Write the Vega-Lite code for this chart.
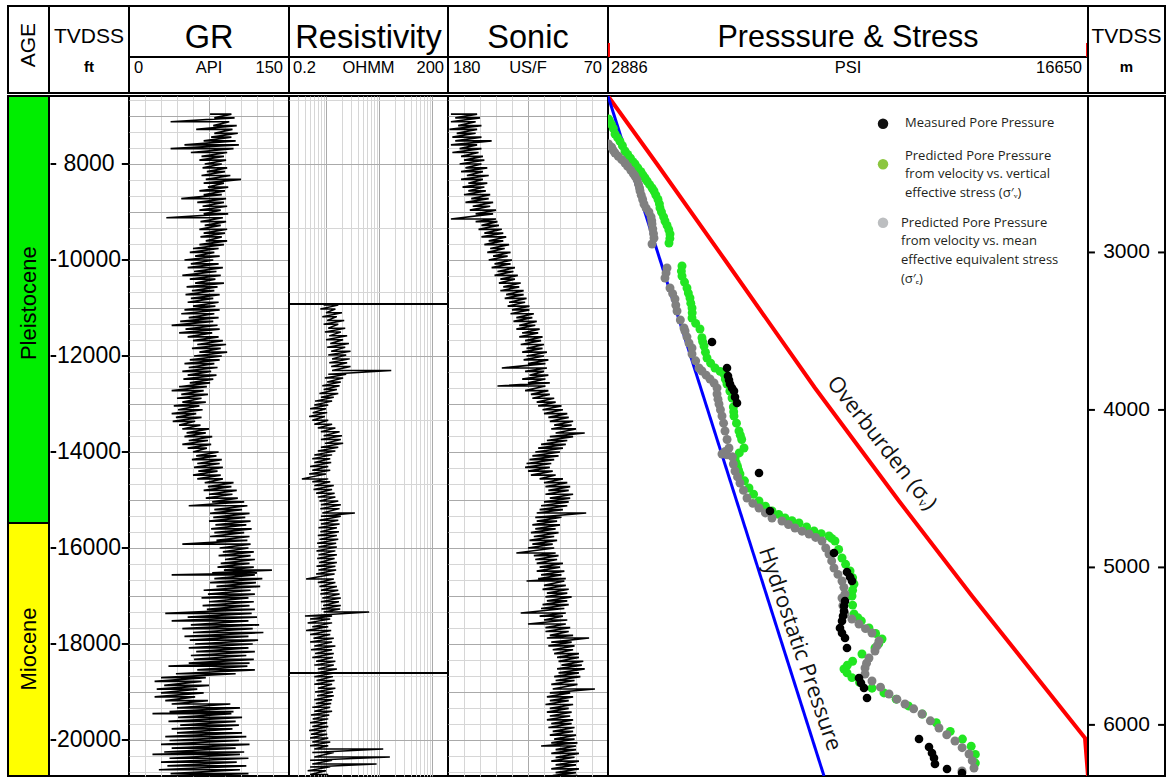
{
"$schema":"https://vega.github.io/schema/vega-lite/v6.json",
"padding":{"left":6,"top":5,"right":4,"bottom":2},
"background":"white",
"spacing":0,
"config":{"view":{"stroke":"#000","strokeWidth":2,"fill":"white"},"text":{"font":"Liberation Sans"},"concat":{"spacing":0}},
"resolve":{"scale":{"x":"independent","y":"independent","color":"independent"}},
"datasets":{
"gr":[{"d":6960,"a":76,"b":96},{"d":7040,"a":80,"b":99},{"d":7120,"a":39,"b":94},{"d":7200,"a":79,"b":101},{"d":7280,"a":63,"b":97},{"d":7360,"a":80,"b":102},{"d":7440,"a":77,"b":96},{"d":7520,"a":70,"b":100},{"d":7600,"a":52,"b":103},{"d":7680,"a":39,"b":98},{"d":7760,"a":58,"b":92},{"d":7840,"a":68,"b":89},{"d":7920,"a":66,"b":91},{"d":8000,"a":71,"b":87},{"d":8080,"a":69,"b":92},{"d":8160,"a":73,"b":90},{"d":8240,"a":68,"b":95},{"d":8320,"a":72,"b":105},{"d":8400,"a":70,"b":89},{"d":8480,"a":74,"b":93},{"d":8560,"a":66,"b":90},{"d":8640,"a":70,"b":87},{"d":8720,"a":49,"b":91},{"d":8800,"a":64,"b":89},{"d":8880,"a":69,"b":92},{"d":8960,"a":66,"b":86},{"d":9040,"a":70,"b":93},{"d":9120,"a":35,"b":88},{"d":9200,"a":67,"b":91},{"d":9280,"a":71,"b":86},{"d":9360,"a":66,"b":92},{"d":9440,"a":70,"b":90},{"d":9520,"a":67,"b":87},{"d":9600,"a":72,"b":92},{"d":9680,"a":66,"b":89},{"d":9760,"a":60,"b":84},{"d":9840,"a":57,"b":80},{"d":9920,"a":62,"b":85},{"d":10000,"a":52,"b":79},{"d":10080,"a":58,"b":84},{"d":10160,"a":55,"b":88},{"d":10240,"a":61,"b":82},{"d":10320,"a":50,"b":86},{"d":10400,"a":57,"b":81},{"d":10480,"a":62,"b":89},{"d":10560,"a":54,"b":83},{"d":10640,"a":59,"b":80},{"d":10720,"a":53,"b":85},{"d":10800,"a":58,"b":79},{"d":10880,"a":55,"b":84},{"d":10960,"a":60,"b":81},{"d":11040,"a":52,"b":85},{"d":11120,"a":49,"b":80},{"d":11200,"a":56,"b":84},{"d":11280,"a":48,"b":79},{"d":11360,"a":40,"b":83},{"d":11440,"a":53,"b":85},{"d":11520,"a":47,"b":78},{"d":11600,"a":55,"b":84},{"d":11680,"a":60,"b":88},{"d":11760,"a":64,"b":91},{"d":11840,"a":59,"b":86},{"d":11920,"a":66,"b":92},{"d":12000,"a":61,"b":87},{"d":12080,"a":57,"b":85},{"d":12160,"a":52,"b":80},{"d":12240,"a":56,"b":83},{"d":12320,"a":50,"b":77},{"d":12400,"a":55,"b":82},{"d":12480,"a":51,"b":79},{"d":12560,"a":57,"b":76},{"d":12640,"a":47,"b":73},{"d":12720,"a":40,"b":70},{"d":12800,"a":49,"b":74},{"d":12880,"a":45,"b":68},{"d":12960,"a":50,"b":72},{"d":13040,"a":42,"b":66},{"d":13120,"a":46,"b":69},{"d":13200,"a":40,"b":63},{"d":13280,"a":44,"b":68},{"d":13360,"a":41,"b":62},{"d":13440,"a":47,"b":67},{"d":13520,"a":50,"b":75},{"d":13600,"a":54,"b":72},{"d":13680,"a":52,"b":78},{"d":13760,"a":56,"b":74},{"d":13840,"a":50,"b":77},{"d":13920,"a":55,"b":73},{"d":14000,"a":60,"b":84},{"d":14080,"a":63,"b":82},{"d":14160,"a":59,"b":87},{"d":14240,"a":64,"b":85},{"d":14320,"a":61,"b":88},{"d":14400,"a":65,"b":83},{"d":14480,"a":60,"b":86},{"d":14560,"a":64,"b":88},{"d":14640,"a":71,"b":98},{"d":14720,"a":74,"b":96},{"d":14800,"a":70,"b":101},{"d":14880,"a":75,"b":97},{"d":14960,"a":72,"b":102},{"d":15040,"a":78,"b":108},{"d":15120,"a":56,"b":111},{"d":15200,"a":80,"b":106},{"d":15280,"a":76,"b":113},{"d":15360,"a":79,"b":109},{"d":15440,"a":75,"b":114},{"d":15520,"a":81,"b":110},{"d":15600,"a":77,"b":115},{"d":15680,"a":80,"b":108},{"d":15760,"a":76,"b":113},{"d":15840,"a":82,"b":111},{"d":15920,"a":50,"b":114},{"d":16000,"a":85,"b":112},{"d":16080,"a":88,"b":117},{"d":16160,"a":84,"b":114},{"d":16240,"a":90,"b":118},{"d":16320,"a":86,"b":113},{"d":16400,"a":83,"b":117},{"d":16460,"a":89,"b":134},{"d":16520,"a":78,"b":120},{"d":16560,"a":40,"b":118},{"d":16640,"a":80,"b":125},{"d":16720,"a":76,"b":119},{"d":16800,"a":82,"b":123},{"d":16880,"a":70,"b":114},{"d":16960,"a":74,"b":118},{"d":17040,"a":68,"b":112},{"d":17120,"a":75,"b":117},{"d":17200,"a":69,"b":113},{"d":17280,"a":73,"b":118},{"d":17360,"a":34,"b":115},{"d":17440,"a":55,"b":120},{"d":17520,"a":40,"b":112},{"d":17600,"a":58,"b":122},{"d":17680,"a":50,"b":116},{"d":17760,"a":60,"b":126},{"d":17840,"a":52,"b":112},{"d":17920,"a":57,"b":121},{"d":18000,"a":62,"b":116},{"d":18080,"a":56,"b":112},{"d":18160,"a":63,"b":118},{"d":18240,"a":58,"b":110},{"d":18320,"a":61,"b":117},{"d":18400,"a":56,"b":113},{"d":18460,"a":37,"b":111},{"d":18540,"a":64,"b":118},{"d":18620,"a":44,"b":100},{"d":18700,"a":30,"b":72},{"d":18780,"a":24,"b":68},{"d":18860,"a":33,"b":75},{"d":18940,"a":26,"b":64},{"d":19020,"a":30,"b":70},{"d":19100,"a":24,"b":62},{"d":19180,"a":34,"b":74},{"d":19250,"a":40,"b":95},{"d":19330,"a":45,"b":104},{"d":19410,"a":38,"b":98},{"d":19450,"a":22,"b":96},{"d":19530,"a":46,"b":106},{"d":19610,"a":37,"b":100},{"d":19690,"a":48,"b":103},{"d":19770,"a":40,"b":97},{"d":19850,"a":45,"b":106},{"d":19930,"a":34,"b":110},{"d":20010,"a":38,"b":103},{"d":20090,"a":30,"b":113},{"d":20170,"a":40,"b":100},{"d":20250,"a":33,"b":108},{"d":20300,"a":22,"b":104},{"d":20380,"a":38,"b":112},{"d":20460,"a":30,"b":101},{"d":20540,"a":36,"b":110},{"d":20620,"a":28,"b":104},{"d":20700,"a":39,"b":112},{"d":20750,"a":34,"b":100}],
"son":[{"d":6960,"a":178,"b":160},{"d":7040,"a":175,"b":158},{"d":7120,"a":178,"b":161},{"d":7200,"a":173,"b":157},{"d":7280,"a":179,"b":160},{"d":7360,"a":174,"b":161},{"d":7440,"a":177,"b":157},{"d":7520,"a":175,"b":150},{"d":7600,"a":178,"b":160},{"d":7680,"a":172,"b":157},{"d":7760,"a":177,"b":159},{"d":7840,"a":171,"b":156},{"d":7920,"a":169,"b":155},{"d":8000,"a":172,"b":157},{"d":8080,"a":168,"b":153},{"d":8160,"a":171,"b":156},{"d":8240,"a":167,"b":152},{"d":8320,"a":171,"b":156},{"d":8400,"a":166,"b":153},{"d":8480,"a":170,"b":155},{"d":8560,"a":166,"b":154},{"d":8640,"a":169,"b":151},{"d":8720,"a":164,"b":152},{"d":8800,"a":168,"b":149},{"d":8880,"a":163,"b":151},{"d":8960,"a":165,"b":147},{"d":9040,"a":161,"b":149},{"d":9146,"a":178,"b":147},{"d":9200,"a":161,"b":146},{"d":9280,"a":157,"b":145},{"d":9360,"a":159,"b":143},{"d":9440,"a":155,"b":142},{"d":9520,"a":157,"b":140},{"d":9600,"a":152,"b":142},{"d":9680,"a":155,"b":138},{"d":9760,"a":151,"b":141},{"d":9840,"a":153,"b":137},{"d":9920,"a":149,"b":139},{"d":10000,"a":152,"b":136},{"d":10080,"a":148,"b":137},{"d":10160,"a":150,"b":134},{"d":10240,"a":146,"b":135},{"d":10320,"a":148,"b":132},{"d":10400,"a":144,"b":134},{"d":10480,"a":145,"b":130},{"d":10560,"a":142,"b":131},{"d":10640,"a":144,"b":128},{"d":10720,"a":140,"b":128},{"d":10800,"a":141,"b":126},{"d":10880,"a":138,"b":127},{"d":10960,"a":139,"b":124},{"d":11040,"a":136,"b":124},{"d":11120,"a":137,"b":121},{"d":11200,"a":133,"b":122},{"d":11280,"a":135,"b":119},{"d":11360,"a":131,"b":120},{"d":11440,"a":133,"b":117},{"d":11520,"a":129,"b":118},{"d":11600,"a":131,"b":115},{"d":11680,"a":127,"b":116},{"d":11760,"a":130,"b":114},{"d":11840,"a":126,"b":115},{"d":11920,"a":129,"b":112},{"d":12000,"a":126,"b":114},{"d":12080,"a":128,"b":111},{"d":12160,"a":125,"b":113},{"d":12250,"a":143,"b":112},{"d":12320,"a":127,"b":114},{"d":12400,"a":124,"b":111},{"d":12480,"a":129,"b":113},{"d":12560,"a":125,"b":110},{"d":12625,"a":146,"b":113},{"d":12720,"a":127,"b":111},{"d":12800,"a":123,"b":110},{"d":12880,"a":122,"b":107},{"d":12960,"a":119,"b":106},{"d":13040,"a":118,"b":102},{"d":13120,"a":115,"b":101},{"d":13200,"a":114,"b":98},{"d":13280,"a":111,"b":97},{"d":13360,"a":110,"b":94},{"d":13440,"a":107,"b":95},{"d":13520,"a":109,"b":92},{"d":13604,"a":106,"b":86},{"d":13680,"a":110,"b":94},{"d":13760,"a":112,"b":98},{"d":13840,"a":116,"b":99},{"d":13920,"a":118,"b":101},{"d":14000,"a":120,"b":103},{"d":14080,"a":122,"b":104},{"d":14160,"a":124,"b":107},{"d":14240,"a":126,"b":109},{"d":14320,"a":127,"b":110},{"d":14400,"a":125,"b":108},{"d":14480,"a":123,"b":106},{"d":14560,"a":117,"b":101},{"d":14640,"a":114,"b":98},{"d":14720,"a":113,"b":96},{"d":14800,"a":111,"b":97},{"d":14880,"a":113,"b":94},{"d":14960,"a":110,"b":96},{"d":15040,"a":114,"b":97},{"d":15120,"a":116,"b":98},{"d":15200,"a":117,"b":101},{"d":15271,"a":119,"b":85},{"d":15360,"a":120,"b":102},{"d":15440,"a":119,"b":105},{"d":15520,"a":122,"b":103},{"d":15600,"a":120,"b":106},{"d":15680,"a":123,"b":104},{"d":15760,"a":121,"b":107},{"d":15840,"a":124,"b":105},{"d":15920,"a":122,"b":108},{"d":16000,"a":125,"b":107},{"d":16104,"a":133,"b":106},{"d":16160,"a":121,"b":104},{"d":16240,"a":120,"b":105},{"d":16320,"a":119,"b":101},{"d":16400,"a":117,"b":103},{"d":16480,"a":119,"b":100},{"d":16560,"a":116,"b":102},{"d":16640,"a":118,"b":99},{"d":16688,"a":126,"b":100},{"d":16780,"a":114,"b":99},{"d":16860,"a":115,"b":97},{"d":16940,"a":112,"b":98},{"d":17020,"a":113,"b":95},{"d":17100,"a":112,"b":98},{"d":17180,"a":115,"b":97},{"d":17260,"a":116,"b":100},{"d":17354,"a":130,"b":99},{"d":17420,"a":117,"b":101},{"d":17500,"a":114,"b":98},{"d":17583,"a":125,"b":99},{"d":17660,"a":113,"b":96},{"d":17740,"a":113,"b":97},{"d":17820,"a":110,"b":94},{"d":17875,"a":112,"b":83},{"d":17960,"a":109,"b":95},{"d":18040,"a":111,"b":93},{"d":18120,"a":108,"b":94},{"d":18200,"a":107,"b":90},{"d":18280,"a":105,"b":90},{"d":18360,"a":104,"b":87},{"d":18440,"a":102,"b":88},{"d":18520,"a":105,"b":86},{"d":18600,"a":104,"b":90},{"d":18680,"a":107,"b":89},{"d":18760,"a":106,"b":93},{"d":18840,"a":109,"b":91},{"d":18938,"a":108,"b":79},{"d":19020,"a":110,"b":96},{"d":19100,"a":112,"b":94},{"d":19180,"a":110,"b":97},{"d":19260,"a":113,"b":94},{"d":19340,"a":110,"b":97},{"d":19420,"a":112,"b":95},{"d":19500,"a":110,"b":96},{"d":19580,"a":112,"b":94},{"d":19660,"a":109,"b":95},{"d":19740,"a":111,"b":93},{"d":19820,"a":108,"b":94},{"d":19900,"a":110,"b":92},{"d":19980,"a":107,"b":93},{"d":20060,"a":109,"b":91},{"d":20125,"a":116,"b":92},{"d":20200,"a":106,"b":92},{"d":20280,"a":109,"b":90},{"d":20360,"a":106,"b":93},{"d":20440,"a":109,"b":90},{"d":20520,"a":106,"b":92},{"d":20600,"a":109,"b":90},{"d":20680,"a":106,"b":92},{"d":20740,"a":108,"b":91}],
"res":[{"d":10940,"a":0.9,"b":1.7},{"d":11020,"a":0.78,"b":1.5},{"d":11100,"a":1.0,"b":2.0},{"d":11180,"a":0.85,"b":1.6},{"d":11260,"a":1.05,"b":2.2},{"d":11340,"a":0.9,"b":1.7},{"d":11420,"a":1.1,"b":2.3},{"d":11500,"a":0.95,"b":1.9},{"d":11580,"a":1.15,"b":2.5},{"d":11660,"a":1.0,"b":2.1},{"d":11740,"a":1.2,"b":2.7},{"d":11820,"a":1.05,"b":2.3},{"d":11900,"a":1.25,"b":2.9},{"d":11980,"a":1.1,"b":2.4},{"d":12060,"a":1.3,"b":2.8},{"d":12140,"a":1.15,"b":2.5},{"d":12220,"a":1.25,"b":2.9},{"d":12300,"a":1.3,"b":17},{"d":12380,"a":1.1,"b":2.4},{"d":12460,"a":0.95,"b":2.1},{"d":12540,"a":1.05,"b":1.9},{"d":12620,"a":0.85,"b":1.8},{"d":12700,"a":0.9,"b":1.6},{"d":12780,"a":0.75,"b":1.7},{"d":12860,"a":0.8,"b":1.4},{"d":12940,"a":0.62,"b":1.3},{"d":13020,"a":0.6,"b":1.1},{"d":13100,"a":0.5,"b":1.0},{"d":13180,"a":0.56,"b":1.05},{"d":13260,"a":0.48,"b":0.95},{"d":13340,"a":0.55,"b":1.1},{"d":13420,"a":0.6,"b":1.3},{"d":13500,"a":0.7,"b":1.5},{"d":13580,"a":0.8,"b":1.8},{"d":13660,"a":0.9,"b":2.0},{"d":13740,"a":0.8,"b":1.9},{"d":13820,"a":0.95,"b":2.1},{"d":13900,"a":0.8,"b":1.7},{"d":13980,"a":0.7,"b":1.5},{"d":14060,"a":0.6,"b":1.3},{"d":14140,"a":0.55,"b":1.2},{"d":14220,"a":0.6,"b":1.25},{"d":14300,"a":0.5,"b":1.1},{"d":14380,"a":0.55,"b":1.2},{"d":14460,"a":0.48,"b":1.0},{"d":14560,"a":0.35,"b":1.1},{"d":14620,"a":0.55,"b":1.2},{"d":14700,"a":0.6,"b":1.4},{"d":14780,"a":0.58,"b":1.3},{"d":14860,"a":0.65,"b":1.45},{"d":14940,"a":0.7,"b":1.5},{"d":15020,"a":0.75,"b":1.7},{"d":15100,"a":0.8,"b":1.9},{"d":15180,"a":0.78,"b":1.8},{"d":15271,"a":0.85,"b":3.5},{"d":15340,"a":0.8,"b":1.9},{"d":15420,"a":0.75,"b":1.7},{"d":15500,"a":0.8,"b":1.8},{"d":15580,"a":0.72,"b":1.6},{"d":15660,"a":0.78,"b":1.75},{"d":15740,"a":0.7,"b":1.6},{"d":15820,"a":0.75,"b":1.7},{"d":15900,"a":0.68,"b":1.55},{"d":15980,"a":0.72,"b":1.6},{"d":16060,"a":0.66,"b":1.5},{"d":16140,"a":0.72,"b":1.6},{"d":16220,"a":0.68,"b":1.45},{"d":16300,"a":0.74,"b":1.6},{"d":16380,"a":0.66,"b":1.5},{"d":16460,"a":0.72,"b":1.55},{"d":16540,"a":0.65,"b":1.45},{"d":16646,"a":0.42,"b":1.4},{"d":16720,"a":0.7,"b":1.5},{"d":16800,"a":0.75,"b":1.6},{"d":16880,"a":0.8,"b":1.7},{"d":16960,"a":0.78,"b":1.8},{"d":17040,"a":0.85,"b":1.9},{"d":17120,"a":0.8,"b":1.75},{"d":17200,"a":0.88,"b":1.9},{"d":17270,"a":0.82,"b":1.85},{"d":17333,"a":0.9,"b":6.5},{"d":17417,"a":0.4,"b":1.3},{"d":17480,"a":0.5,"b":1.2},{"d":17560,"a":0.45,"b":1.3},{"d":17640,"a":0.55,"b":1.1},{"d":17720,"a":0.42,"b":1.25},{"d":17800,"a":0.5,"b":1.2},{"d":17880,"a":0.58,"b":1.4},{"d":17960,"a":0.5,"b":1.3},{"d":18040,"a":0.6,"b":1.5},{"d":18120,"a":0.52,"b":1.3},{"d":18200,"a":0.62,"b":1.4},{"d":18280,"a":0.55,"b":1.35},{"d":18360,"a":0.65,"b":1.5},{"d":18440,"a":0.6,"b":1.4},{"d":18520,"a":0.7,"b":1.6},{"d":18600,"a":0.68,"b":1.5},{"d":18680,"a":0.6,"b":1.35},{"d":18760,"a":0.66,"b":1.45},{"d":18840,"a":0.6,"b":1.3},{"d":18920,"a":0.7,"b":1.5},{"d":19000,"a":0.62,"b":1.35},{"d":19080,"a":0.68,"b":1.4},{"d":19160,"a":0.6,"b":1.3},{"d":19240,"a":0.64,"b":1.25},{"d":19320,"a":0.55,"b":1.2},{"d":19400,"a":0.6,"b":1.3},{"d":19480,"a":0.52,"b":1.15},{"d":19560,"a":0.56,"b":1.1},{"d":19640,"a":0.5,"b":1.05},{"d":19720,"a":0.55,"b":1.1},{"d":19800,"a":0.48,"b":1.0},{"d":19880,"a":0.52,"b":1.05},{"d":19960,"a":0.5,"b":1.1},{"d":20040,"a":0.55,"b":1.2},{"d":20120,"a":0.5,"b":1.1},{"d":20188,"a":0.6,"b":12},{"d":20260,"a":0.55,"b":1.4},{"d":20354,"a":0.6,"b":16},{"d":20420,"a":0.5,"b":1.3},{"d":20500,"a":0.55,"b":9},{"d":20560,"a":0.5,"b":1.2},{"d":20640,"a":0.45,"b":1.0},{"d":20720,"a":0.5,"b":1.1}],
"ob":[{"d":6583.3,"p":2886},{"d":8000,"p":4291},{"d":10000,"p":6241},{"d":12667,"p":8822},{"d":15021,"p":11230},{"d":17000,"p":13324},{"d":19958,"p":16564},{"d":20750,"p":17400}],
"hy":[{"d":6583.3,"p":2886},{"d":20750,"p":9080}],
"pp":[
{"s":"v","p":2900,"d":7063},{"s":"v","p":2930,"d":7104},{"s":"v","p":2990,"d":7180},{"s":"v","p":3040,"d":7260},{"s":"v","p":3087,"d":7375},{"s":"v","p":3160,"d":7450},{"s":"v","p":3230,"d":7530},{"s":"v","p":3300,"d":7620},{"s":"v","p":3373,"d":7729},{"s":"v","p":3450,"d":7800},{"s":"v","p":3530,"d":7880},{"s":"v","p":3600,"d":7950},{"s":"v","p":3660,"d":8000},{"s":"v","p":3740,"d":8080},{"s":"v","p":3830,"d":8160},{"s":"v","p":3890,"d":8230},{"s":"v","p":3947,"d":8292},{"s":"v","p":4010,"d":8360},{"s":"v","p":4080,"d":8430},{"s":"v","p":4150,"d":8500},{"s":"v","p":4205,"d":8563},{"s":"v","p":4260,"d":8650},{"s":"v","p":4320,"d":8740},{"s":"v","p":4360,"d":8830},{"s":"v","p":4377,"d":8917},{"s":"v","p":4420,"d":9000},{"s":"v","p":4480,"d":9100},{"s":"v","p":4520,"d":9188},{"s":"v","p":4580,"d":9280},{"s":"v","p":4630,"d":9370},{"s":"v","p":4664,"d":9458},{"s":"v","p":4660,"d":9550},{"s":"v","p":4635,"d":9646},
{"s":"v","p":5008,"d":10125},{"s":"v","p":4990,"d":10230},{"s":"v","p":5008,"d":10333},{"s":"v","p":5080,"d":10460},{"s":"v","p":5151,"d":10583},{"s":"v","p":5190,"d":10690},{"s":"v","p":5237,"d":10792},{"s":"v","p":5260,"d":10900},{"s":"v","p":5295,"d":11000},{"s":"v","p":5300,"d":11100},{"s":"v","p":5295,"d":11208},{"s":"v","p":5400,"d":11320},{"s":"v","p":5524,"d":11438},{"s":"v","p":5580,"d":11620},{"s":"v","p":5600,"d":11700},{"s":"v","p":5639,"d":11792},{"s":"v","p":5680,"d":11920},{"s":"v","p":5725,"d":12042},{"s":"v","p":5830,"d":12150},{"s":"v","p":5954,"d":12250},{"s":"v","p":6100,"d":12320},{"s":"v","p":6212,"d":12375},{"s":"v","p":6250,"d":12480},{"s":"v","p":6298,"d":12583},{"s":"v","p":6380,"d":12730},{"s":"v","p":6442,"d":12875},{"s":"v","p":6480,"d":13060},{"s":"v","p":6490,"d":13160},{"s":"v","p":6499,"d":13250},{"s":"v","p":6570,"d":13400},{"s":"v","p":6642,"d":13563},{"s":"v","p":6680,"d":13650},{"s":"v","p":6720,"d":13740},{"s":"v","p":6786,"d":13917},{"s":"v","p":6650,"d":14020},{"s":"v","p":6528,"d":14125},{"s":"v","p":6560,"d":14220},{"s":"v","p":6600,"d":14300},{"s":"v","p":6630,"d":14380},{"s":"v","p":6671,"d":14458},{"s":"v","p":6800,"d":14600},{"s":"v","p":6929,"d":14750},{"s":"v","p":7060,"d":14880},{"s":"v","p":7216,"d":15021},{"s":"v","p":7400,"d":15130},{"s":"v","p":7589,"d":15229},{"s":"v","p":7780,"d":15300},{"s":"v","p":7961,"d":15375},{"s":"v","p":8160,"d":15430},{"s":"v","p":8363,"d":15479},{"s":"v","p":8580,"d":15560},{"s":"v","p":8793,"d":15646},{"s":"v","p":9000,"d":15700},{"s":"v","p":9223,"d":15750},{"s":"v","p":9300,"d":15800},{"s":"v","p":9395,"d":15854},{"s":"v","p":9500,"d":16030},{"s":"v","p":9596,"d":16208},{"s":"v","p":9700,"d":16340},{"s":"v","p":9826,"d":16479},{"s":"v","p":9900,"d":16620},{"s":"v","p":9940,"d":16750},{"s":"v","p":9900,"d":16880},{"s":"v","p":9883,"d":17000},{"s":"v","p":9900,"d":17190},{"s":"v","p":9940,"d":17375},{"s":"v","p":10050,"d":17450},{"s":"v","p":10150,"d":17520},{"s":"v","p":10370,"d":17667},{"s":"v","p":10560,"d":17780},{"s":"v","p":10743,"d":17896},{"s":"v","p":10650,"d":17990},{"s":"v","p":10542,"d":18083},{"s":"v","p":10169,"d":18208},{"s":"v","p":9900,"d":18360},{"s":"v","p":9750,"d":18440},{"s":"v","p":9653,"d":18521},{"s":"v","p":9740,"d":18600},{"s":"v","p":9880,"d":18700},{"s":"v","p":10100,"d":18800},{"s":"v","p":10456,"d":18920},{"s":"v","p":10800,"d":19020},{"s":"v","p":11150,"d":19150},{"s":"v","p":11500,"d":19290},{"s":"v","p":11900,"d":19460},{"s":"v","p":12300,"d":19640},{"s":"v","p":12700,"d":19820},{"s":"v","p":13050,"d":19980},{"s":"v","p":13300,"d":20130},{"s":"v","p":13420,"d":20300},{"s":"v","p":13420,"d":20480},
{"s":"m","p":2900,"d":7583},{"s":"m","p":2990,"d":7650},{"s":"m","p":3040,"d":7720},{"s":"m","p":3087,"d":7771},{"s":"m","p":3180,"d":7840},{"s":"m","p":3280,"d":7910},{"s":"m","p":3373,"d":7979},{"s":"m","p":3450,"d":8050},{"s":"m","p":3540,"d":8130},{"s":"m","p":3610,"d":8200},{"s":"m","p":3660,"d":8250},{"s":"m","p":3720,"d":8330},{"s":"m","p":3760,"d":8420},{"s":"m","p":3790,"d":8500},{"s":"m","p":3804,"d":8563},{"s":"m","p":3840,"d":8650},{"s":"m","p":3880,"d":8740},{"s":"m","p":3918,"d":8833},{"s":"m","p":3980,"d":8920},{"s":"m","p":4060,"d":9000},{"s":"m","p":4120,"d":9100},{"s":"m","p":4140,"d":9180},{"s":"m","p":4148,"d":9250},{"s":"m","p":4170,"d":9350},{"s":"m","p":4190,"d":9450},{"s":"m","p":4205,"d":9542},{"s":"m","p":4148,"d":9667},
{"s":"m","p":4578,"d":10167},{"s":"m","p":4550,"d":10270},{"s":"m","p":4520,"d":10375},{"s":"m","p":4664,"d":10583},{"s":"m","p":4740,"d":10700},{"s":"m","p":4807,"d":10813},{"s":"m","p":4830,"d":10940},{"s":"m","p":4865,"d":11063},{"s":"m","p":4960,"d":11250},{"s":"m","p":5065,"d":11417},{"s":"m","p":5094,"d":11479},{"s":"m","p":5150,"d":11600},{"s":"m","p":5209,"d":11729},{"s":"m","p":5295,"d":11833},{"s":"m","p":5295,"d":11958},{"s":"m","p":5400,"d":12100},{"s":"m","p":5495,"d":12250},{"s":"m","p":5581,"d":12313},{"s":"m","p":5700,"d":12400},{"s":"m","p":5811,"d":12479},{"s":"m","p":5926,"d":12563},{"s":"m","p":6012,"d":12667},{"s":"m","p":6012,"d":12792},{"s":"m","p":6040,"d":12900},{"s":"m","p":6069,"d":13000},{"s":"m","p":6110,"d":13120},{"s":"m","p":6155,"d":13250},{"s":"m","p":6200,"d":13400},{"s":"m","p":6241,"d":13563},{"s":"m","p":6300,"d":13740},{"s":"m","p":6356,"d":13917},{"s":"m","p":6250,"d":13990},{"s":"m","p":6155,"d":14042},{"s":"m","p":6300,"d":14060},{"s":"m","p":6450,"d":14100},{"s":"m","p":6480,"d":14250},{"s":"m","p":6528,"d":14396},{"s":"m","p":6600,"d":14520},{"s":"m","p":6671,"d":14646},{"s":"m","p":6770,"d":14800},{"s":"m","p":6872,"d":14958},{"s":"m","p":7040,"d":15070},{"s":"m","p":7216,"d":15167},{"s":"m","p":7400,"d":15270},{"s":"m","p":7589,"d":15375},{"s":"m","p":7875,"d":15438},{"s":"m","p":8060,"d":15510},{"s":"m","p":8248,"d":15583},{"s":"m","p":8450,"d":15650},{"s":"m","p":8650,"d":15708},{"s":"m","p":8840,"d":15780},{"s":"m","p":9022,"d":15854},{"s":"m","p":9130,"d":16000},{"s":"m","p":9223,"d":16125},{"s":"m","p":9300,"d":16270},{"s":"m","p":9366,"d":16417},{"s":"m","p":9480,"d":16550},{"s":"m","p":9596,"d":16688},{"s":"m","p":9650,"d":16820},{"s":"m","p":9682,"d":16958},{"s":"m","p":9596,"d":17042},{"s":"m","p":9620,"d":17200},{"s":"m","p":9682,"d":17375},{"s":"m","p":9880,"d":17480},{"s":"m","p":10083,"d":17583},{"s":"m","p":10270,"d":17680},{"s":"m","p":10456,"d":17771},{"s":"m","p":10657,"d":17938},{"s":"m","p":10600,"d":18040},{"s":"m","p":10542,"d":18146},{"s":"m","p":10370,"d":18292},{"s":"m","p":10300,"d":18400},{"s":"m","p":10256,"d":18500},{"s":"m","p":10256,"d":18625},{"s":"m","p":10456,"d":18771},{"s":"m","p":10700,"d":18900},{"s":"m","p":10944,"d":19042},{"s":"m","p":11170,"d":19150},{"s":"m","p":11402,"d":19250},{"s":"m","p":11650,"d":19350},{"s":"m","p":11890,"d":19458},{"s":"m","p":12130,"d":19600},{"s":"m","p":12377,"d":19750},{"s":"m","p":12600,"d":19890},{"s":"m","p":12836,"d":20021},{"s":"m","p":13040,"d":20160},{"s":"m","p":13238,"d":20292},{"s":"m","p":13330,"d":20430},{"s":"m","p":13381,"d":20583},{"s":"m","p":13037,"d":20646},
{"s":"k","p":5868,"d":11708},{"s":"k","p":6298,"d":12250},{"s":"k","p":6327,"d":12417},{"s":"k","p":6356,"d":12500},{"s":"k","p":6384,"d":12583},{"s":"k","p":6442,"d":12667},{"s":"k","p":6499,"d":12729},{"s":"k","p":6528,"d":12854},{"s":"k","p":6585,"d":12979},{"s":"k","p":7216,"d":14438},{"s":"k","p":7531,"d":15229},{"s":"k","p":9366,"d":16104},{"s":"k","p":9739,"d":16500},{"s":"k","p":9826,"d":16604},{"s":"k","p":9883,"d":16688},{"s":"k","p":9682,"d":17104},{"s":"k","p":9653,"d":17208},{"s":"k","p":9653,"d":17313},{"s":"k","p":9625,"d":17417},{"s":"k","p":9596,"d":17521},{"s":"k","p":9538,"d":17667},{"s":"k","p":9596,"d":17771},{"s":"k","p":9682,"d":17875},{"s":"k","p":9739,"d":18083},{"s":"k","p":10083,"d":18708},{"s":"k","p":10140,"d":18813},{"s":"k","p":10227,"d":18917},{"s":"k","p":10313,"d":19125},{"s":"k","p":11804,"d":19979},{"s":"k","p":12091,"d":20146},{"s":"k","p":12176,"d":20271},{"s":"k","p":12234,"d":20375},{"s":"k","p":12262,"d":20500},{"s":"k","p":12607,"d":20604},{"s":"k","p":13037,"d":20688}],
"ftl":[{"d":8000},{"d":10000},{"d":12000},{"d":14000},{"d":16000},{"d":18000},{"d":20000}],
"ml":[{"m":3000},{"m":4000},{"m":5000},{"m":6000}],
"age":[{"age":"Pleistocene","top":6583.3,"base":15479},{"age":"Miocene","top":15479,"base":20750}]
},
"vconcat":[
{"hconcat":[
 {"width":41,"height":87,"data":{"values":[{}]},"mark":{"type":"text","angle":270,"fontSize":21},"encoding":{"x":{"datum":0.5,"scale":{"domain":[0,1]},"axis":null},"y":{"datum":0.45,"scale":{"domain":[0,1],"reverse":true},"axis":null},"text":{"value":"AGE"}}},
 {"width":80,"height":87,"data":{"values":[{}]},"layer":[
  {"mark":{"type":"text","fontSize":21},"encoding":{"x":{"datum":0.5,"scale":{"domain":[0,1]},"axis":null},"y":{"datum":0.362,"scale":{"domain":[0,1],"reverse":true},"axis":null},"text":{"value":"TVDSS"}}},
  {"mark":{"type":"text","fontSize":15,"fontWeight":"bold"},"encoding":{"x":{"datum":0.5,"axis":null},"y":{"datum":0.70,"axis":null},"text":{"value":"ft"}}}]},
 {"width":160,"height":87,"data":{"values":[{}]},"layer":[
  {"mark":{"type":"rule","color":"#000","strokeWidth":2},"encoding":{"x":{"datum":0,"scale":{"domain":[0,1]},"axis":null},"x2":{"datum":1},"y":{"datum":0.586,"scale":{"domain":[0,1],"reverse":true},"axis":null}}},
  {"mark":{"type":"text","fontSize":32.5},"encoding":{"x":{"datum":0.5,"axis":null},"y":{"datum":0.368,"axis":null},"text":{"value":"GR"}}},
  {"mark":{"type":"text","fontSize":16.5,"align":"left","dx":5},"encoding":{"x":{"datum":0,"axis":null},"y":{"datum":0.713,"axis":null},"text":{"value":"0"}}},
  {"mark":{"type":"text","fontSize":16.5},"encoding":{"x":{"datum":0.5,"axis":null},"y":{"datum":0.713,"axis":null},"text":{"value":"API"}}},
  {"mark":{"type":"text","fontSize":16.5,"align":"right","dx":-6},"encoding":{"x":{"datum":1,"axis":null},"y":{"datum":0.713,"axis":null},"text":{"value":"150"}}}]},
 {"width":159,"height":87,"data":{"values":[{}]},"layer":[
  {"mark":{"type":"rule","color":"#000","strokeWidth":2},"encoding":{"x":{"datum":0,"scale":{"domain":[0,1]},"axis":null},"x2":{"datum":1},"y":{"datum":0.586,"scale":{"domain":[0,1],"reverse":true},"axis":null}}},
  {"mark":{"type":"text","fontSize":32.5},"encoding":{"x":{"datum":0.5,"axis":null},"y":{"datum":0.368,"axis":null},"text":{"value":"Resistivity"}}},
  {"mark":{"type":"text","fontSize":16.5,"align":"left","dx":4},"encoding":{"x":{"datum":0,"axis":null},"y":{"datum":0.713,"axis":null},"text":{"value":"0.2"}}},
  {"mark":{"type":"text","fontSize":16.5},"encoding":{"x":{"datum":0.5,"axis":null},"y":{"datum":0.713,"axis":null},"text":{"value":"OHMM"}}},
  {"mark":{"type":"text","fontSize":16.5,"align":"right","dx":-4},"encoding":{"x":{"datum":1,"axis":null},"y":{"datum":0.713,"axis":null},"text":{"value":"200"}}}]},
 {"width":160,"height":87,"data":{"values":[{}]},"layer":[
  {"mark":{"type":"rule","color":"#000","strokeWidth":2},"encoding":{"x":{"datum":0,"scale":{"domain":[0,1]},"axis":null},"x2":{"datum":1},"y":{"datum":0.586,"scale":{"domain":[0,1],"reverse":true},"axis":null}}},
  {"mark":{"type":"text","fontSize":32.5},"encoding":{"x":{"datum":0.5,"axis":null},"y":{"datum":0.368,"axis":null},"text":{"value":"Sonic"}}},
  {"mark":{"type":"text","fontSize":16.5,"align":"left","dx":5},"encoding":{"x":{"datum":0,"axis":null},"y":{"datum":0.713,"axis":null},"text":{"value":"180"}}},
  {"mark":{"type":"text","fontSize":16.5},"encoding":{"x":{"datum":0.5,"axis":null},"y":{"datum":0.713,"axis":null},"text":{"value":"US/F"}}},
  {"mark":{"type":"text","fontSize":16.5,"align":"right","dx":-6},"encoding":{"x":{"datum":1,"axis":null},"y":{"datum":0.713,"axis":null},"text":{"value":"70"}}}]},
 {"width":480,"height":87,"data":{"values":[{}]},"layer":[
  {"mark":{"type":"rule","color":"#000","strokeWidth":2},"encoding":{"x":{"datum":0,"scale":{"domain":[0,1]},"axis":null},"x2":{"datum":1},"y":{"datum":0.586,"scale":{"domain":[0,1],"reverse":true},"axis":null}}},
  {"mark":{"type":"rule","color":"#ff0000","strokeWidth":2},"encoding":{"x":{"datum":0.002,"axis":null},"y":{"datum":0.425,"axis":null},"y2":{"datum":0.586}}},
  {"mark":{"type":"rule","color":"#ff0000","strokeWidth":2},"encoding":{"x":{"datum":0.998,"axis":null},"y":{"datum":0.425,"axis":null},"y2":{"datum":0.586}}},
  {"mark":{"type":"text","fontSize":30.5},"encoding":{"x":{"datum":0.5,"axis":null},"y":{"datum":0.368,"axis":null},"text":{"value":"Presssure & Stress"}}},
  {"mark":{"type":"text","fontSize":16.5,"align":"left","dx":3},"encoding":{"x":{"datum":0,"axis":null},"y":{"datum":0.713,"axis":null},"text":{"value":"2886"}}},
  {"mark":{"type":"text","fontSize":16.5},"encoding":{"x":{"datum":0.5,"axis":null},"y":{"datum":0.713,"axis":null},"text":{"value":"PSI"}}},
  {"mark":{"type":"text","fontSize":16.5,"align":"right","dx":-6},"encoding":{"x":{"datum":1,"axis":null},"y":{"datum":0.713,"axis":null},"text":{"value":"16650"}}}]},
 {"width":77,"height":87,"data":{"values":[{}]},"layer":[
  {"mark":{"type":"text","fontSize":21},"encoding":{"x":{"datum":0.5,"scale":{"domain":[0,1]},"axis":null},"y":{"datum":0.362,"scale":{"domain":[0,1],"reverse":true},"axis":null},"text":{"value":"TVDSS"}}},
  {"mark":{"type":"text","fontSize":15,"fontWeight":"bold"},"encoding":{"x":{"datum":0.5,"axis":null},"y":{"datum":0.70,"axis":null},"text":{"value":"m"}}}]}
 ],"spacing":0,"bounds":"flush","resolve":{"scale":{"x":"independent","y":"independent","color":"independent"}}},
{"hconcat":[
 {"width":41,"height":680,"layer":[
  {"data":{"name":"age"},"mark":{"type":"rect","stroke":"#000","strokeWidth":2},"encoding":{"y":{"field":"top","type":"quantitative","scale":{"domain":[6583.3,20750],"reverse":true,"nice":false,"zero":false},"axis":null},"y2":{"field":"base"},"color":{"field":"age","type":"nominal","scale":{"domain":["Pleistocene","Miocene"],"range":["#00ee00","#ffff00"]},"legend":null}}},
  {"data":{"values":[{}]},"mark":{"type":"text","angle":270,"fontSize":22},"encoding":{"x":{"datum":0.5,"scale":{"domain":[0,1]},"axis":null},"y":{"datum":10900,"axis":null},"text":{"value":"Pleistocene"}}},
  {"data":{"values":[{}]},"mark":{"type":"text","angle":270,"fontSize":22},"encoding":{"x":{"datum":0.5,"axis":null},"y":{"datum":18104,"axis":null},"text":{"value":"Miocene"}}}]},
 {"width":80,"height":680,"data":{"name":"ftl"},"layer":[
  {"mark":{"type":"text","fontSize":23},"encoding":{"x":{"datum":0.5,"scale":{"domain":[0,1]},"axis":null},"y":{"field":"d","type":"quantitative","scale":{"domain":[6583.3,20750],"reverse":true,"nice":false,"zero":false},"axis":null},"text":{"field":"d","type":"nominal"}}},
  {"mark":{"type":"rule","color":"#000","strokeWidth":2},"encoding":{"x":{"datum":0.02,"axis":null},"x2":{"datum":0.09},"y":{"field":"d","type":"quantitative","axis":null}}},
  {"mark":{"type":"rule","color":"#000","strokeWidth":2},"encoding":{"x":{"datum":0.91,"axis":null},"x2":{"datum":0.99},"y":{"field":"d","type":"quantitative","axis":null}}}]},
 {"width":160,"height":680,"data":{"name":"gr"},"transform":[{"fold":["a","b"],"as":["k","val"]}],"mark":{"type":"line","color":"#000","strokeWidth":1.7,"clip":true},"encoding":{
  "x":{"field":"val","type":"quantitative","scale":{"domain":[0,150],"nice":false,"zero":false},"axis":{"orient":"bottom","values":[15,30,45,60,75,90,105,120,135],"grid":true,"labels":false,"ticks":false,"domain":false,"title":null,"gridColor":{"condition":{"test":"datum.value === 75","value":"#aaaaaa"},"value":"#d6d6d6"}}},
  "y":{"field":"d","type":"quantitative","scale":{"domain":[6583.3,20750],"reverse":true,"nice":false,"zero":false},"axis":{"orient":"left","values":[6666.667,7000,7333.333,7666.667,8000,8333.333,8666.667,9000,9333.333,9666.667,10000,10333.333,10666.667,11000,11333.333,11666.667,12000,12333.333,12666.667,13000,13333.333,13666.667,14000,14333.333,14666.667,15000,15333.333,15666.667,16000,16333.333,16666.667,17000,17333.333,17666.667,18000,18333.333,18666.667,19000,19333.333,19666.667,20000,20333.333,20666.667],"grid":true,"labels":false,"ticks":false,"domain":false,"title":null,"gridColor":{"condition":{"test":"abs(datum.value % 1000) < 1","value":"#aaaaaa"},"value":"#d6d6d6"}}},
  "order":{"field":"d","type":"quantitative"}}},
 {"width":159,"height":680,"layer":[
  {"data":{"name":"res"},"transform":[{"fold":["a","b"],"as":["k","val"]}],"mark":{"type":"line","color":"#000","strokeWidth":1.5,"clip":true},"encoding":{
   "x":{"field":"val","type":"quantitative","scale":{"type":"log","domain":[0.2,200],"nice":false},"axis":{"orient":"bottom","values":[0.3,0.4,0.5,0.6,0.7,0.8,0.9,1,2,3,4,5,6,7,8,9,10,20,30,40,50,60,70,80,90,100],"grid":true,"labels":false,"ticks":false,"domain":false,"title":null,"gridColor":{"condition":{"test":"datum.value == 1 || datum.value == 10 || datum.value == 100","value":"#aaaaaa"},"value":"#d6d6d6"}}},
   "y":{"field":"d","type":"quantitative","scale":{"domain":[6583.3,20750],"reverse":true,"nice":false,"zero":false},"axis":{"orient":"left","values":[6666.667,7000,7333.333,7666.667,8000,8333.333,8666.667,9000,9333.333,9666.667,10000,10333.333,10666.667,11000,11333.333,11666.667,12000,12333.333,12666.667,13000,13333.333,13666.667,14000,14333.333,14666.667,15000,15333.333,15666.667,16000,16333.333,16666.667,17000,17333.333,17666.667,18000,18333.333,18666.667,19000,19333.333,19666.667,20000,20333.333,20666.667],"grid":true,"labels":false,"ticks":false,"domain":false,"title":null,"gridColor":{"condition":{"test":"abs(datum.value % 1000) < 1","value":"#aaaaaa"},"value":"#d6d6d6"}}},
   "order":{"field":"d","type":"quantitative"}}},
  {"data":{"values":[{}]},"mark":{"type":"rule","color":"#000","strokeWidth":2},"encoding":{"y":{"datum":10917}}},
  {"data":{"values":[{}]},"mark":{"type":"rule","color":"#000","strokeWidth":2},"encoding":{"y":{"datum":18604}}}]},
 {"width":160,"height":680,"data":{"name":"son"},"transform":[{"fold":["a","b"],"as":["k","val"]}],"mark":{"type":"line","color":"#000","strokeWidth":1.7,"clip":true},"encoding":{
  "x":{"field":"val","type":"quantitative","scale":{"domain":[180,70],"nice":false,"zero":false},"axis":{"orient":"bottom","values":[169,158,147,136,125,114,103,92,81],"grid":true,"labels":false,"ticks":false,"domain":false,"title":null,"gridColor":{"condition":{"test":"datum.value === 125","value":"#aaaaaa"},"value":"#d6d6d6"}}},
  "y":{"field":"d","type":"quantitative","scale":{"domain":[6583.3,20750],"reverse":true,"nice":false,"zero":false},"axis":{"orient":"left","values":[6666.667,7000,7333.333,7666.667,8000,8333.333,8666.667,9000,9333.333,9666.667,10000,10333.333,10666.667,11000,11333.333,11666.667,12000,12333.333,12666.667,13000,13333.333,13666.667,14000,14333.333,14666.667,15000,15333.333,15666.667,16000,16333.333,16666.667,17000,17333.333,17666.667,18000,18333.333,18666.667,19000,19333.333,19666.667,20000,20333.333,20666.667],"grid":true,"labels":false,"ticks":false,"domain":false,"title":null,"gridColor":{"condition":{"test":"abs(datum.value % 1000) < 1","value":"#aaaaaa"},"value":"#d6d6d6"}}},
  "order":{"field":"d","type":"quantitative"}}},
 {"width":480,"height":680,"layer":[
  {"data":{"name":"ob"},"mark":{"type":"line","color":"#ff0000","strokeWidth":4,"clip":true},"encoding":{"x":{"field":"p","type":"quantitative","scale":{"domain":[2886,16650],"nice":false,"zero":false,"clamp":true},"axis":null},"y":{"field":"d","type":"quantitative","scale":{"domain":[6583.3,20750],"reverse":true,"nice":false,"zero":false},"axis":null},"order":{"field":"d","type":"quantitative"}}},
  {"data":{"name":"hy"},"mark":{"type":"line","color":"#0000ff","strokeWidth":3,"clip":true},"encoding":{"x":{"field":"p","type":"quantitative","axis":null},"y":{"field":"d","type":"quantitative","axis":null},"order":{"field":"d","type":"quantitative"}}},
  {"data":{"name":"pp"},"transform":[{"filter":"datum.s === 'v'"}],"mark":{"type":"circle","size":80,"color":"#22e622","opacity":1,"clip":true},"encoding":{"x":{"field":"p","type":"quantitative","axis":null},"y":{"field":"d","type":"quantitative","axis":null}}},
  {"data":{"name":"pp"},"transform":[{"filter":"datum.s === 'm'"}],"mark":{"type":"circle","size":80,"color":"#808080","opacity":1,"clip":true},"encoding":{"x":{"field":"p","type":"quantitative","axis":null},"y":{"field":"d","type":"quantitative","axis":null}}},
  {"data":{"name":"pp"},"transform":[{"filter":"datum.s === 'k'"}],"mark":{"type":"circle","size":75,"color":"#000000","opacity":1,"clip":true},"encoding":{"x":{"field":"p","type":"quantitative","axis":null},"y":{"field":"d","type":"quantitative","axis":null}}},
  {"data":{"values":[{}]},"mark":{"type":"circle","size":110,"color":"#111111","opacity":1},"encoding":{"x":{"datum":10772,"axis":null},"y":{"datum":7160,"axis":null}}},
  {"data":{"values":[{}]},"mark":{"type":"circle","size":110,"color":"#8cc63f","opacity":1},"encoding":{"x":{"datum":10772,"axis":null},"y":{"datum":8006,"axis":null}}},
  {"data":{"values":[{}]},"mark":{"type":"circle","size":110,"color":"#bcbec0","opacity":1},"encoding":{"x":{"datum":10772,"axis":null},"y":{"datum":9223,"axis":null}}},
  {"data":{"values":[{}]},"mark":{"type":"text","font":"Open Sans","fontSize":13,"color":"#231f20","align":"left","baseline":"middle"},"encoding":{"x":{"datum":11402,"axis":null},"y":{"datum":7146,"axis":null},"text":{"value":"Measured Pore Pressure"}}},
  {"data":{"values":[{}]},"mark":{"type":"text","font":"Open Sans","fontSize":13,"color":"#231f20","align":"left","baseline":"middle","lineHeight":18.5},"encoding":{"x":{"datum":11402,"axis":null},"y":{"datum":7833,"axis":null},"text":{"value":["Predicted Pore Pressure","from velocity vs. vertical","effective stress (σ′ᵥ)"]}}},
  {"data":{"values":[{}]},"mark":{"type":"text","font":"Open Sans","fontSize":13,"color":"#231f20","align":"left","baseline":"middle","lineHeight":18.7},"encoding":{"x":{"datum":11288,"axis":null},"y":{"datum":9223,"axis":null},"text":{"value":["Predicted Pore Pressure","from velocity vs. mean","effective equivalent stress","(σ′ₑ)"]}}},
  {"data":{"values":[{}]},"mark":{"type":"text","font":"Open Sans","fontSize":22,"color":"#111111","angle":52,"baseline":"middle"},"encoding":{"x":{"datum":10743,"axis":null},"y":{"datum":13812,"axis":null},"text":{"value":"Overburden (σᵥ)"}}},
  {"data":{"values":[{}]},"mark":{"type":"text","font":"Open Sans","fontSize":22,"color":"#111111","angle":71,"baseline":"middle"},"encoding":{"x":{"datum":8392,"axis":null},"y":{"datum":18104,"axis":null},"text":{"value":"Hydrostatic Pressure"}}}]},
 {"width":77,"height":680,"data":{"name":"ml"},"layer":[
  {"mark":{"type":"text","fontSize":21},"encoding":{"x":{"datum":0.5,"scale":{"domain":[0,1]},"axis":null},"y":{"field":"m","type":"quantitative","scale":{"domain":[2006.6,6324.6],"reverse":true,"nice":false,"zero":false},"axis":null},"text":{"field":"m","type":"nominal"}}},
  {"mark":{"type":"rule","color":"#000","strokeWidth":2},"encoding":{"x":{"datum":0,"axis":null},"x2":{"datum":0.09},"y":{"field":"m","type":"quantitative","axis":null}}},
  {"mark":{"type":"rule","color":"#000","strokeWidth":2},"encoding":{"x":{"datum":0.91,"axis":null},"x2":{"datum":1},"y":{"field":"m","type":"quantitative","axis":null}}}]}
 ],"spacing":0,"bounds":"flush","resolve":{"scale":{"x":"independent","y":"independent","color":"independent"}}}
]
}
